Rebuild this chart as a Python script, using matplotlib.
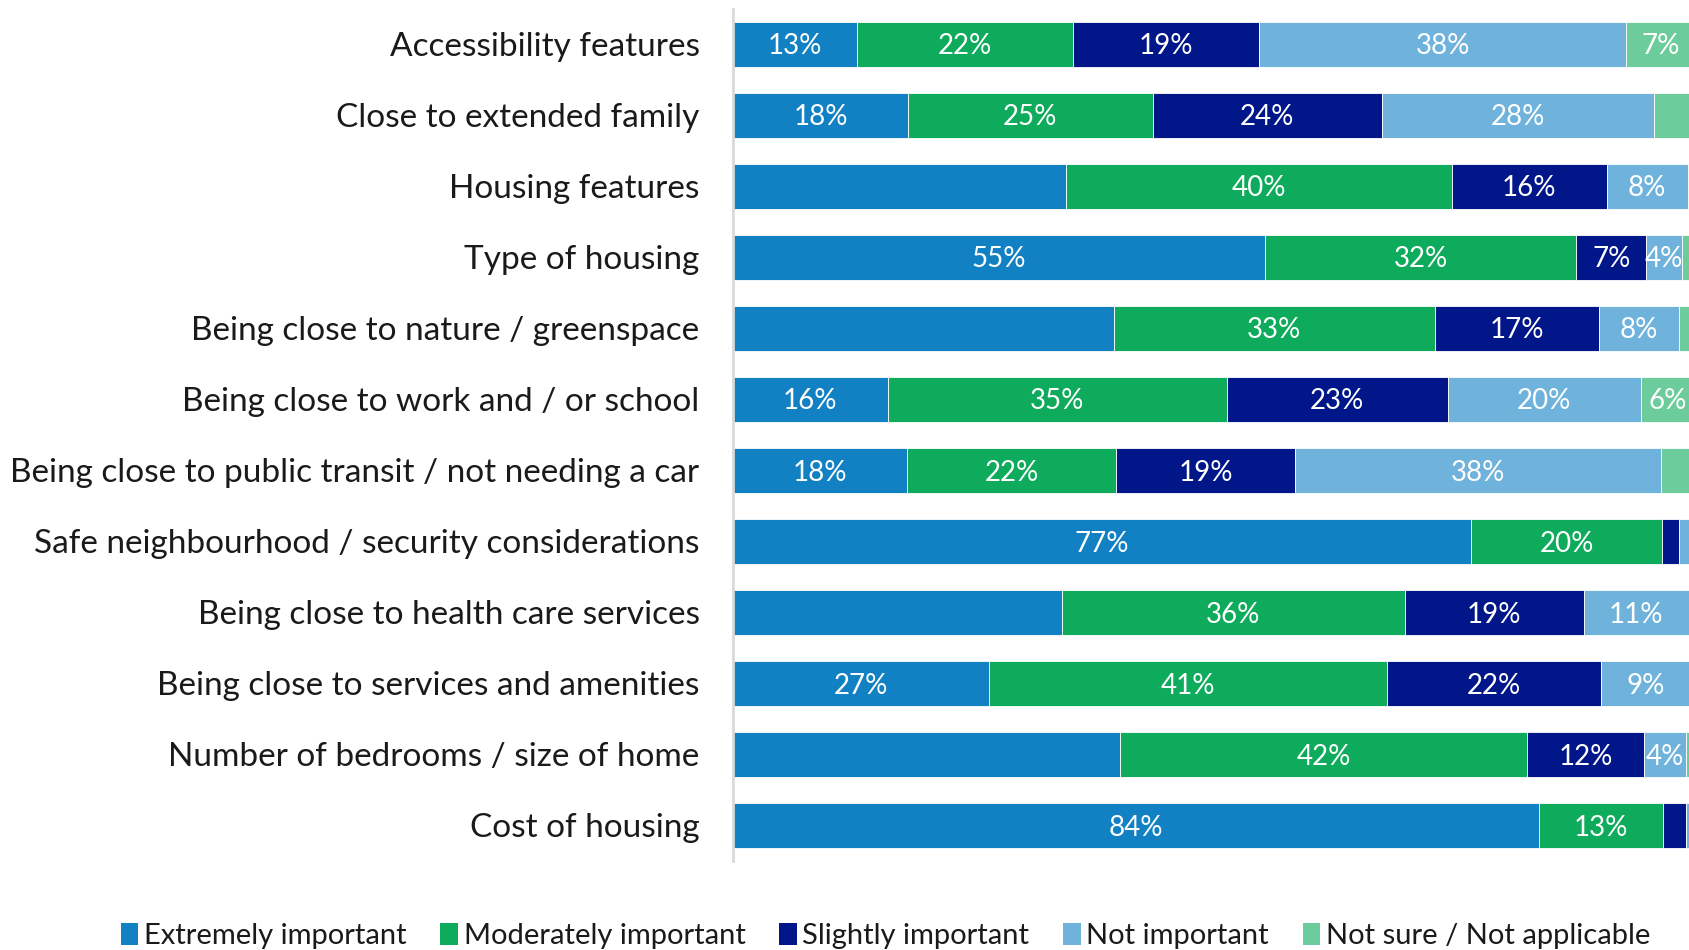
import numpy as np
import matplotlib
matplotlib.use("Agg")
import matplotlib.pyplot as plt
from matplotlib.patches import Patch

plt.rcParams['font.family'] = ['Lato', 'DejaVu Sans']

factors = [
    "Accessibility features",
    "Close to extended family",
    "Housing features",
    "Type of housing",
    "Being close to nature / greenspace",
    "Being close to work and / or school",
    "Being close to public transit / not needing a car",
    "Safe neighbourhood / security considerations",
    "Being close to health care services",
    "Being close to services and amenities",
    "Number of bedrooms / size of home",
    "Cost of housing",
]

categories = ["Extremely important", "Moderately important", "Slightly important",
              "Not important", "Not sure / Not applicable"]
colors = ["#1181c4", "#0dab5b", "#001689", "#6fb2db", "#6ccc9c"]

# share of respondents (%) per factor, one list per response category
extremely = [12.9, 18.2, 34.6, 55.3, 39.6, 16.1, 18.1, 76.7, 34.2, 26.6, 40.2, 83.8]
moderately = [22.4, 25.4, 40.1, 32.3, 33.3, 35.2, 21.7, 19.8, 35.6, 41.4, 42.3, 12.8]
slightly = [19.4, 23.8, 16.1, 7.3, 17.1, 23.0, 18.6, 1.8, 18.6, 22.2, 12.2, 2.4]
not_important = [38.1, 28.3, 8.4, 3.7, 8.3, 20.0, 38.0, 1.3, 10.9, 9.2, 4.3, 0.3]
not_sure = [7.2, 4.3, 0.8, 1.4, 1.7, 5.7, 3.6, 0.4, 0.7, 0.6, 1.0, 0.7]

# segments left without a value label (factor index, category index)
unlabelled = {(1, 4), (2, 0), (4, 0), (6, 4), (8, 0), (10, 0)}

series = [extremely, moderately, slightly, not_important, not_sure]

fig = plt.figure(figsize=(16.9, 9.5), dpi=100)
ax = fig.add_axes([0.4337, 0.0937, 0.5695, 0.8971])

y = np.arange(len(factors))
left = np.zeros(len(factors))
for ci, (vals, col) in enumerate(zip(series, colors)):
    vals = np.array(vals)
    ax.barh(y, vals, left=left, height=0.63, color=col,
            edgecolor="white", linewidth=0.6)
    for fi, v in enumerate(vals):
        if v >= 3.5 and (fi, ci) not in unlabelled:
            ax.text(left[fi] + v / 2, y[fi] + 0.03, f"{v:.0f}%", ha="center", va="center",
                    color="white", fontsize=20)
    left += vals

ax.set_xlim(0, 100)
ax.set_ylim(len(factors) - 0.5, -0.5)
ax.set_yticks(y)
ax.set_yticklabels(factors, fontsize=24, color="#1a1a1a")
ax.tick_params(axis="y", length=0, pad=24)
ax.set_xticks([])
for side in ["top", "right", "bottom"]:
    ax.spines[side].set_visible(False)
ax.spines["left"].set_color("#d9d9d9")
ax.spines["left"].set_linewidth(2)

handles = [Patch(facecolor=c, edgecolor="none") for c in colors]
fig.legend(handles, categories, loc="center", bbox_to_anchor=(0.524, 0.015),
           ncol=5, frameon=False, fontsize=21, handlelength=0.6, handleheight=0.8,
           handletextpad=0.2, columnspacing=1.15, labelcolor="#1a1a1a")

fig.savefig("out.png", dpi=100)
